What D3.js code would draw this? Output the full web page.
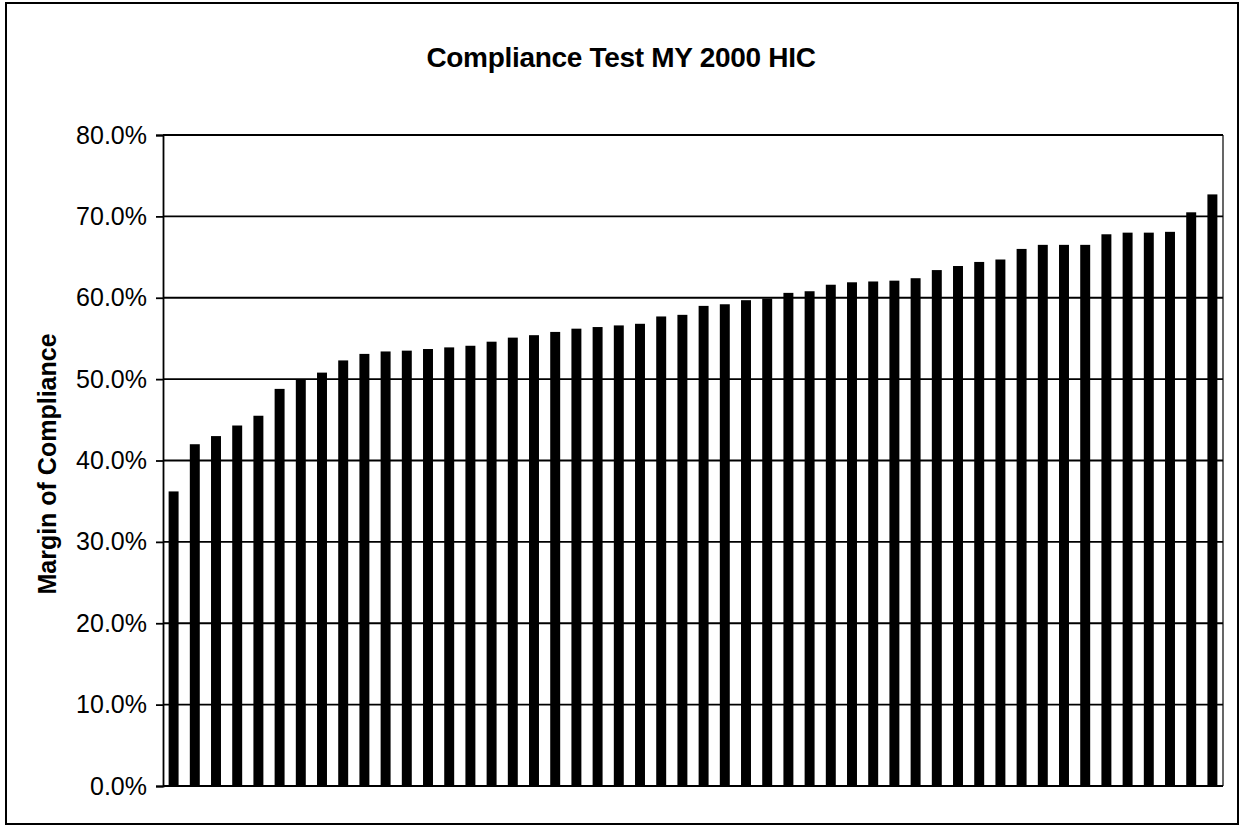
<!DOCTYPE html>
<html>
<head>
<meta charset="utf-8">
<script src="https://cdn.jsdelivr.net/npm/d3@7"></script>
<style>
  html, body { margin: 0; padding: 0; background: #fff; }
  svg { display: block; }
  text { font-family: "Liberation Sans", Arial, sans-serif; fill: #000; }
</style>
</head>
<body>
<svg id="chart" width="1241" height="827"></svg>
<script>
const title = "Compliance Test MY 2000 HIC";
const yTitle = "Margin of Compliance";
const categories = d3.range(1, 51).map(String);
const values = [
  36.2, 42.0, 43.0, 44.3, 45.5, 48.8, 50.0, 50.8, 52.3, 53.1,
  53.4, 53.5, 53.7, 53.9, 54.1, 54.6, 55.1, 55.4, 55.8, 56.2,
  56.4, 56.6, 56.8, 57.7, 57.9, 59.0, 59.2, 59.7, 59.9, 60.6,
  60.8, 61.6, 61.9, 62.0, 62.1, 62.4, 63.4, 63.9, 64.4, 64.7,
  66.0, 66.5, 66.5, 66.5, 67.8, 68.0, 68.0, 68.1, 70.5, 72.7
];
const yTicks = [0, 10, 20, 30, 40, 50, 60, 70, 80];

const svg = d3.select("#chart");
const plot = { left: 163, right: 1223, top: 135, bottom: 786 };

// outer frame
svg.append("rect")
  .attr("x", 6).attr("y", 3)
  .attr("width", 1232).attr("height", 821)
  .attr("fill", "#fff").attr("stroke", "#000").attr("stroke-width", 2);

const x = d3.scaleBand()
  .domain(categories)
  .range([plot.left, plot.right])
  .paddingInner(0.53)
  .paddingOuter(0.265);

const y = d3.scaleLinear()
  .domain([0, 80])
  .range([plot.bottom, plot.top]);

// plot area border (right side)
svg.append("line")
  .attr("x1", plot.right).attr("x2", plot.right)
  .attr("y1", plot.top).attr("y2", plot.bottom)
  .attr("stroke", "#000").attr("stroke-width", 1.2);

// gridlines
svg.append("g")
  .selectAll("line")
  .data(yTicks)
  .join("line")
  .attr("x1", plot.left).attr("x2", plot.right)
  .attr("y1", d => y(d)).attr("y2", d => y(d))
  .attr("stroke", "#000").attr("stroke-width", 1.8);

// bars
svg.append("g")
  .selectAll("rect")
  .data(values)
  .join("rect")
  .attr("x", (d, i) => x(categories[i]))
  .attr("width", x.bandwidth())
  .attr("y", d => y(d))
  .attr("height", d => y(0) - y(d))
  .attr("fill", "#000");

// y axis
const yAxis = d3.axisLeft(y)
  .tickValues(yTicks)
  .tickSize(7)
  .tickPadding(9)
  .tickFormat(d => d3.format(".1f")(d) + "%");

const gy = svg.append("g")
  .attr("transform", `translate(${plot.left},0)`)
  .call(yAxis);
gy.select(".domain").attr("stroke", "#000").attr("stroke-width", 1.8);
gy.selectAll(".tick line").attr("stroke", "#000").attr("stroke-width", 1.8);
gy.selectAll(".tick text")
  .attr("font-family", "'Liberation Sans', Arial, sans-serif")
  .attr("font-size", 25)
  .attr("fill", "#000");

// bottom axis line
svg.append("line")
  .attr("x1", plot.left).attr("x2", plot.right)
  .attr("y1", plot.bottom).attr("y2", plot.bottom)
  .attr("stroke", "#000").attr("stroke-width", 1.8);

// title
svg.append("text")
  .attr("x", 621).attr("y", 67)
  .attr("text-anchor", "middle")
  .attr("font-size", 28)
  .attr("font-weight", "bold")
  .attr("letter-spacing", -0.3)
  .text(title);

// y axis title
svg.append("text")
  .attr("transform", `translate(56, 464) rotate(-90)`)
  .attr("text-anchor", "middle")
  .attr("font-size", 25)
  .attr("font-weight", "bold")
  .text(yTitle);
</script>
</body>
</html>
